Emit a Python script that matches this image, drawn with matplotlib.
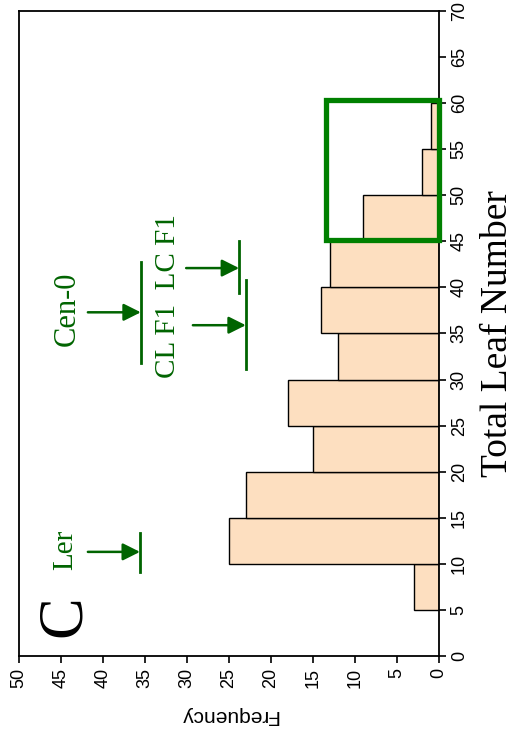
import matplotlib
matplotlib.use("Agg")
import matplotlib.pyplot as plt
from matplotlib.patches import Rectangle

# Data
bin_edges = [5, 10, 15, 20, 25, 30, 35, 40, 45, 50, 55]
frequencies = [3, 25, 23, 15, 18, 12, 14, 13, 9, 2, 1]
bin_width = 5

# Genotype markers: (label, mean leaf number, low, high, frequency position)
marker_names = ["Ler", "Cen-0", "LC F1", "CL F1"]
marker_means = [11.3, 37.3, 42.1, 35.9]
marker_low = [9.1, 31.8, 39.4, 31.1]
marker_high = [13.35, 42.8, 45.0, 40.8]
marker_freq = [35.6, 35.5, 23.8, 23.0]
arrow_start = [41.8, 41.8, 30.1, 29.3]

freq_ticks = [0, 5, 10, 15, 20, 25, 30, 35, 40, 45, 50]
leaf_ticks = [0, 5, 10, 15, 20, 25, 30, 35, 40, 45, 50, 55, 60, 65, 70]

W, H = 515, 738
fig = plt.figure(figsize=(W / 100, H / 100), dpi=100)
ax = fig.add_axes([19 / W, 1 - 656 / H, (439 - 19) / W, (656 - 11) / H])

green_dark = "#006400"
ax.barh(bin_edges, frequencies, height=bin_width, align="edge",
        color="#FDDFC0", edgecolor="black", linewidth=1.0, zorder=2)

ax.set_xlim(50, 0)
ax.set_ylim(0, 70)
ax.set_xticks(freq_ticks)
ax.set_yticks(leaf_ticks)
ax.yaxis.tick_right()
ax.yaxis.set_label_position("right")
ax.tick_params(direction="out", length=5, width=1.2, labelsize=13,
               colors="black")
for lab in ax.get_xticklabels():
    lab.set_rotation(90)
    lab.set_family("Liberation Sans")
for lab in ax.get_yticklabels():
    lab.set_rotation(90)
    lab.set_va("center")
    lab.set_family("Liberation Sans")
for s in ax.spines.values():
    s.set_linewidth(1.3)

ax.set_xlabel("Frequency", rotation=180, fontsize=15, family="Liberation Sans",
              labelpad=13)
ax.set_ylabel("Total Leaf Number", rotation=90, fontsize=27,
              family="Liberation Serif", labelpad=9)

# Highlight rectangle
ax.add_patch(Rectangle((0, 45.1), 13.45, 15.2, fill=False,
                       edgecolor="#008000", linewidth=3.8, zorder=4,
                       clip_on=False))

# Markers
for name, m, lo, hi, f, a0 in zip(marker_names, marker_means, marker_low,
                                  marker_high, marker_freq, arrow_start):
    ax.plot([f, f], [lo, hi], color=green_dark, lw=2.0, zorder=5)
    ax.annotate("", xy=(f, m), xytext=(a0, m),
                arrowprops=dict(arrowstyle="-|>", color=green_dark, lw=1.8,
                                mutation_scale=26, shrinkA=0, shrinkB=0),
                zorder=5)

serif = "Liberation Serif"
ax.text(44.5, 11.5, "Ler", rotation=90, ha="center", va="center",
        fontsize=21, color=green_dark, family=serif)
ax.text(44.3, 37.7, "Cen-0", rotation=90, ha="center", va="center",
        fontsize=22, color=green_dark, family=serif)
ax.text(32.3, 39.1, "CL F1  LC F1", rotation=90, ha="center", va="center",
        fontsize=21, color=green_dark, family=serif)
ax.text(44.5, 4.3, "C", rotation=90, ha="center", va="center",
        fontsize=45, color="black", family=serif)

fig.savefig("out.png", dpi=100)
